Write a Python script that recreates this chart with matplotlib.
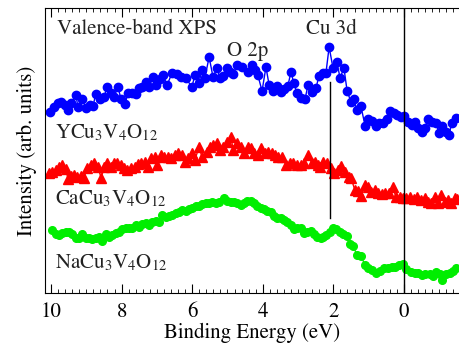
import matplotlib
matplotlib.use('Agg')
import matplotlib.pyplot as plt
from matplotlib.ticker import MultipleLocator

plt.rcParams['font.family'] = 'STIXGeneral'
plt.rcParams['mathtext.fontset'] = 'stix'

# Y-compound (blue circles)
y_E = [10.03, 9.92, 9.80, 9.72, 9.60, 9.52, 9.43, 9.29, 9.24, 9.12, 9.01, 8.90, 8.81, 8.73, 8.61,
       8.50, 8.41, 8.30, 8.22, 8.10, 8.02, 7.90, 7.82, 7.71, 7.59, 7.51, 7.42, 7.31, 7.22, 7.11,
       7.03, 6.91, 6.83, 6.71, 6.57, 6.43, 6.32, 6.18, 6.01, 5.92, 5.81, 5.72, 5.64, 5.52, 5.41,
       5.30, 5.21, 5.13, 5.01, 4.93, 4.84, 4.73, 4.59, 4.42, 4.31, 4.22, 4.14, 4.02, 3.91, 3.82,
       3.71, 3.60, 3.48, 3.40, 3.29, 3.20, 3.12, 3.03, 2.92, 2.80, 2.72, 2.61, 2.49, 2.41, 2.29,
       2.21, 2.12, 2.01, 1.90, 1.81, 1.70, 1.61, 1.50, 1.42, 1.33, 1.22, 1.10, 1.02, 0.91, 0.79,
       0.71, 0.59, 0.48, 0.40, 0.28, 0.20, 0.08, 0.00, -0.11, -0.23, -0.31, -0.40, -0.51, -0.59,
       -0.68, -0.79, -0.91, -0.99, -1.08, -1.19, -1.27, -1.36, -1.47]
y_I = [18.1, 18.6, 19.0, 19.1, 18.8, 18.3, 19.0, 19.8, 18.6, 19.4, 18.5, 18.8, 18.7, 19.9, 19.4,
       19.6, 20.6, 20.0, 19.6, 20.6, 19.4, 18.9, 20.0, 20.0, 19.9, 20.5, 20.6, 21.1, 20.6, 21.6,
       20.8, 21.4, 21.8, 20.8, 22.0, 21.9, 21.6, 21.5, 20.6, 21.8, 21.0, 22.3, 21.5, 23.6, 21.6,
       22.5, 21.5, 21.7, 22.5, 22.1, 21.9, 22.8, 22.6, 22.1, 22.8, 22.3, 21.8, 20.2, 22.6, 20.8,
       20.2, 20.7, 20.1, 20.4, 20.7, 22.1, 21.0, 20.0, 19.5, 19.4, 20.8, 20.1, 20.5, 21.7, 22.0,
       22.0, 24.6, 22.5, 23.1, 21.5, 22.5, 20.2, 19.1, 19.4, 18.3, 18.7, 16.7, 17.4, 17.2, 16.7,
       17.0, 17.0, 17.4, 18.2, 18.0, 17.8, 17.6, 17.7, 17.1, 16.8, 17.1, 16.5, 16.1, 16.5,
       17.4, 17.1, 17.0, 16.0, 16.7, 16.1, 15.8, 17.0, 17.5]

# Ca-compound (red triangles)
ca_E = [10.06, 9.97, 9.86, 9.77, 9.69, 9.58, 9.52, 9.43, 9.35, 9.26, 9.15, 9.07, 8.98, 8.87, 8.78,
        8.67, 8.58, 8.50, 8.41, 8.30, 8.22, 8.13, 8.02, 7.93, 7.85, 7.73, 7.62, 7.54, 7.45, 7.34,
        7.25, 7.17, 7.05, 7.00, 6.88, 6.80, 6.69, 6.60, 6.49, 6.40, 6.29, 6.20, 6.12, 6.01, 5.92,
        5.81, 5.72, 5.58, 5.50, 5.41, 5.30, 5.21, 5.13, 5.01, 4.90, 4.84, 4.73, 4.62, 4.53, 4.42,
        4.33, 4.25, 4.14, 4.05, 3.94, 3.85, 3.74, 3.65, 3.57, 3.46, 3.34, 3.23, 3.14, 3.03, 2.92,
        2.83, 2.72, 2.61, 2.52, 2.44, 2.38, 2.29, 2.18, 2.07, 1.98, 1.87, 1.78, 1.67, 1.56, 1.50,
        1.39, 1.30, 1.22, 1.10, 1.02, 0.93, 0.82, 0.74, 0.62, 0.54, 0.42, 0.31, 0.23, 0.11, 0.03,
        -0.06, -0.17, -0.28, -0.37, -0.48, -0.59, -0.68, -0.76, -0.88, -0.96, -1.05, -1.16, -1.25,
        -1.33, -1.44, -1.50]
ca_I = [12.0, 12.1, 12.3, 12.6, 12.8, 12.4, 11.4, 11.7, 11.8, 11.6, 11.7, 11.5, 12.5, 12.8, 13.0,
        12.6, 11.5, 12.6, 13.0, 12.6, 13.0, 13.0, 12.8, 12.5, 12.3, 12.5, 12.6, 12.9, 13.0, 13.1,
        12.6, 13.5, 13.6, 12.8, 13.8, 13.6, 13.6, 13.5, 13.8, 14.0, 13.8, 13.1, 13.5, 14.0, 13.3,
        14.6, 13.6, 14.1, 14.6, 14.8, 15.0, 14.3, 14.6, 15.1, 15.6, 14.3, 15.0, 14.6, 14.0, 14.6,
        14.5, 14.0, 13.8, 14.5, 14.0, 14.1, 14.0, 13.8, 13.6, 13.6, 12.8, 13.0, 13.0, 12.8, 12.8,
        13.0, 13.8, 13.0, 13.1, 12.8, 12.6, 13.1, 13.0, 12.5, 12.0, 12.3, 12.7, 12.1, 11.6, 11.5,
        10.3, 10.2, 9.7, 10.8, 10.6, 10.1, 10.3, 10.0, 9.9, 10.0, 10.0, 10.6, 9.6, 9.6, 9.5,
        9.5, 9.6, 9.4, 9.6, 9.3, 9.5, 9.1, 9.0, 9.6, 9.0, 9.8, 9.1, 9.3,
        9.0, 9.5, 9.4]

# Na-compound (green circles)
na_E = [9.97, 9.86, 9.77, 9.69, 9.58, 9.49, 9.41, 9.29, 9.21, 9.12, 9.01, 8.92, 8.84, 8.73, 8.64,
        8.56, 8.44, 8.36, 8.27, 8.16, 8.07, 7.99, 7.88, 7.79, 7.71, 7.59, 7.51, 7.42, 7.31, 7.22,
        7.14, 7.03, 6.94, 6.86, 6.74, 6.66, 6.57, 6.46, 6.37, 6.29, 6.18, 6.09, 6.01, 5.89, 5.81,
        5.72, 5.61, 5.52, 5.44, 5.33, 5.24, 5.10, 5.01, 4.90, 4.82, 4.73, 4.62, 4.53, 4.45, 4.33,
        4.25, 4.16, 4.05, 3.97, 3.88, 3.77, 3.68, 3.60, 3.48, 3.40, 3.31, 3.20, 3.12, 3.03, 2.92,
        2.83, 2.75, 2.63, 2.55, 2.46, 2.35, 2.29, 2.21, 2.10, 2.01, 1.93, 1.81, 1.73, 1.61, 1.53,
        1.44, 1.33, 1.22, 1.10, 1.02, 0.91, 0.79, 0.68, 0.57, 0.45, 0.34, 0.25, 0.14, 0.03, -0.06,
        -0.20, -0.31, -0.40, -0.51, -0.59, -0.74, -0.82, -0.91, -1.02, -1.08, -1.19, -1.30, -1.39,
        -1.47]
na_I = [6.3, 5.9, 5.8, 6.0, 6.1, 6.1, 5.9, 5.5, 5.5, 5.9, 5.5, 5.5, 5.4, 5.5, 5.6,
        5.2, 5.9, 5.6, 5.8, 6.0, 6.1, 6.4, 6.5, 6.5, 6.5, 6.8, 6.6, 6.9, 7.0, 6.8,
        7.1, 7.2, 7.1, 7.8, 7.6, 7.7, 7.8, 8.0, 8.1, 8.3, 8.2, 8.4, 8.5, 8.7, 8.7,
        8.9, 9.0, 9.0, 9.1, 9.0, 9.1, 9.5, 9.2, 9.1, 9.1, 9.0, 8.8, 9.0, 9.2, 9.2,
        9.0, 8.7, 8.5, 8.4, 8.2, 8.1, 7.7, 7.5, 7.5, 7.3, 7.1, 6.8, 6.4, 6.5, 6.5,
        6.0, 6.1, 6.2, 5.9, 5.6, 5.5, 5.6, 5.8, 6.1, 6.5, 6.4, 6.1, 5.9, 5.7, 4.9,
        4.7, 3.8, 3.7, 2.8, 2.5, 2.3, 2.0, 2.2, 2.5, 2.5, 2.6, 2.6, 2.8, 2.9, 2.4,
        2.1, 2.0, 2.0, 1.8, 1.9, 1.9, 1.7, 2.1, 1.9, 1.3, 1.9, 2.0, 2.2,
        2.5]

cu3d_E = 2.1
cu3d_span = (7.5, 21.1)

fig = plt.figure(figsize=(4.59, 3.47), dpi=100)
ax = fig.add_axes([45 / 459, 1 - 293 / 347, 1 - 45 / 459, 285 / 347])

ax.plot(y_E, y_I, '-o', color='#0000ff', ms=6, lw=1, mec='#0000ff')
ax.plot(ca_E, ca_I, '-^', color='#ff0000', ms=6.5, lw=1, mec='#ff0000')
ax.plot(na_E, na_I, '-o', color='#00ee00', ms=5.5, lw=1, mec='#00ee00')

ax.axvline(0, color='black', lw=1)
ax.plot([cu3d_E, cu3d_E], cu3d_span, color='black', lw=1)

ax.set_xlim(10.17, -1.56)
ax.set_ylim(0, 28.5)
ax.xaxis.set_major_locator(MultipleLocator(2))
ax.xaxis.set_minor_locator(MultipleLocator(0.2))
ax.tick_params(axis='x', which='both', direction='in', top=True, labelsize=15, pad=7)
ax.tick_params(axis='x', which='major', length=6.5)
ax.tick_params(axis='x', which='minor', length=3)
ax.set_yticks([])
ax.spines['right'].set_visible(False)

ax.set_xlabel('Binding Energy (eV)', fontsize=15, labelpad=0)
ax.set_ylabel('Intensity (arb. units)', fontsize=15, labelpad=6)

kw = dict(fontsize=15, color='#222222')
ax.text(0.03, 0.925, 'Valence-band XPS', transform=ax.transAxes, va='center', **kw)
ax.text(4.42, 24.2, 'O 2p', ha='center', va='center', **kw)
ax.text(2.07, 26.4, 'Cu 3d', ha='center', va='center', **kw)
ax.text(0.025, 0.56, r'YCu$_3$V$_4$O$_{12}$', transform=ax.transAxes, va='center', **kw)
ax.text(0.025, 0.33, r'CaCu$_3$V$_4$O$_{12}$', transform=ax.transAxes, va='center', **kw)
ax.text(0.025, 0.107, r'NaCu$_3$V$_4$O$_{12}$', transform=ax.transAxes, va='center', **kw)

fig.savefig('out.png', dpi=100)
